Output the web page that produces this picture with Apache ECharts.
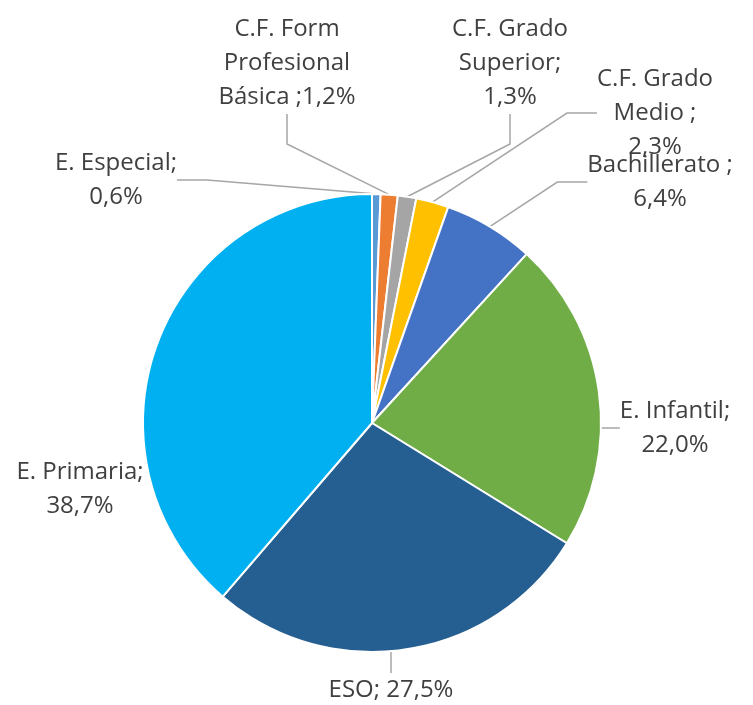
<!DOCTYPE html>
<html>
<head>
<meta charset="utf-8">
<script src="https://cdn.jsdelivr.net/npm/echarts@6/dist/echarts.min.js"></script>
<style>
  html, body { margin: 0; padding: 0; background: #fff; }
  #chart { width: 753px; height: 705px; }
</style>
</head>
<body>
<div id="chart"></div>
<script>
// datos
const categories = ['E. Especial', 'C.F. Form Profesional Básica', 'C.F. Grado Superior', 'C.F. Grado Medio', 'Bachillerato', 'E. Infantil', 'ESO', 'E. Primaria']
const values = [0.6, 1.2, 1.3, 2.3, 6.4, 22.0, 27.5, 38.7]
const labelTexts = [
  'E. Especial;\n0,6%',
  'C.F. Form\nProfesional\nBásica ;1,2%',
  'C.F. Grado\nSuperior;\n1,3%',
  'C.F. Grado\nMedio ;\n2,3%',
  'Bachillerato ;\n6,4%',
  'E. Infantil;\n22,0%',
  'ESO; 27,5%',
  'E. Primaria;\n38,7%'
]
const colors = ['#5B9BD5', '#ED7D31', '#A5A5A5', '#FFC000', '#4472C4', '#70AD47', '#255E91', '#00B0F0']

// where Excel put the labels (center of text block)
const labelPos = [
  [116, 180], [287, 63], [510, 63], [655, 113],
  [660, 182], [675, 428], [391, 690], [80, 489]
]

const chart = echarts.init(document.getElementById('chart'))

const option = {
  animation: false,
  color: colors,
  series: [{
    type: 'pie',
    center: [372, 423],
    radius: 229,
    startAngle: 90,
    clockwise: true,
    itemStyle: { borderColor: '#fff', borderWidth: 2 },
    label: {
      show: true,
      formatter: p => labelTexts[p.dataIndex],
      color: '#404040',
      fontSize: 24,
      lineHeight: 34,
      fontFamily: 'Open Sans',
      align: 'center',
      overflow: 'none'
    },
    labelLine: {
      show: true,
      lineStyle: { color: '#A6A6A6', width: 1.5 }
    },
    labelLayout: params => {
      const pos = labelPos[params.dataIndex]
      return { x: pos[0], y: pos[1], align: 'center', verticalAlign: 'middle' }
    },
    data: categories.map((c, i) => ({
      name: c,
      value: values[i],
      // primaria label sits right on the slice, no leader line
      labelLine: { show: c !== 'E. Primaria' }
    }))
  }]
}

chart.setOption(option)
</script>
</body>
</html>
